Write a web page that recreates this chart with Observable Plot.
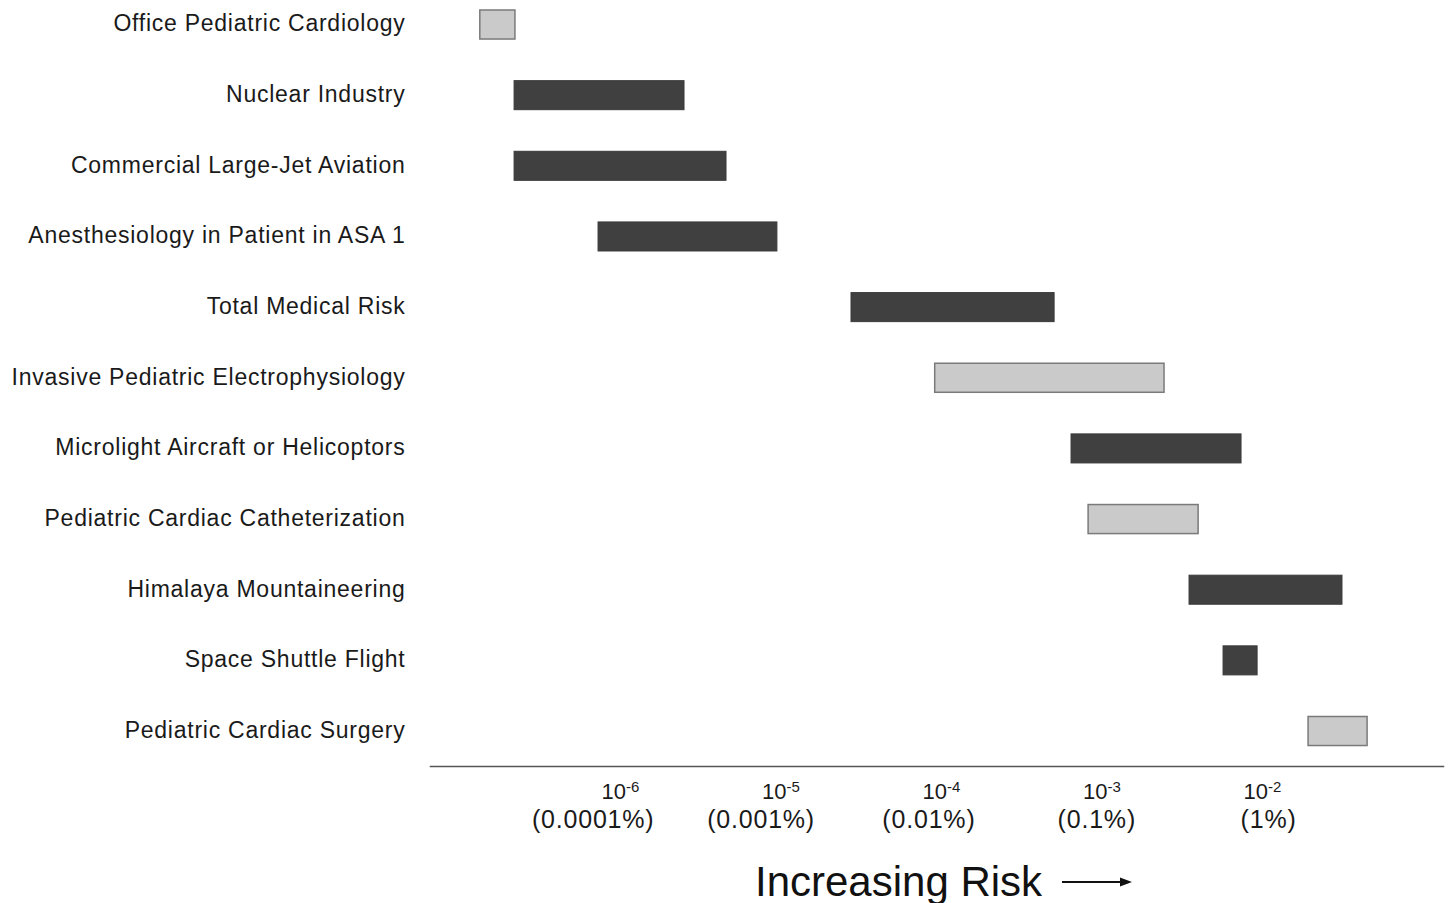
<!DOCTYPE html>
<html>
<head>
<meta charset="utf-8">
<script src="https://cdn.jsdelivr.net/npm/d3@7"></script>
<script src="https://cdn.jsdelivr.net/npm/@observablehq/plot@0.6"></script>
<style>
  html, body { margin: 0; padding: 0; background: #fff; }
  body { width: 1448px; height: 903px; overflow: hidden; font-family: "Liberation Sans", Arial, sans-serif; }
  #caption { margin-top: 11px; margin-left: 755px; font-size: 42px; line-height: 42px; color: #111; white-space: nowrap; }
  #caption svg { vertical-align: baseline; margin-left: 18px; position: relative; top: -6px; }
</style>
</head>
<body>
<div id="chart"></div>
<div id="caption">Increasing Risk<svg width="74" height="16" viewBox="0 0 74 16"><line x1="2" y1="8" x2="62" y2="8" stroke="#111" stroke-width="2"/><path d="M60,3.5 L72,8 L60,12.5 Z" fill="#111"/></svg></div>
<script>
const categories = [
  "Office Pediatric Cardiology",
  "Nuclear Industry",
  "Commercial Large-Jet Aviation",
  "Anesthesiology in Patient in ASA 1",
  "Total Medical Risk",
  "Invasive Pediatric Electrophysiology",
  "Microlight Aircraft or Helicoptors",
  "Pediatric Cardiac Catheterization",
  "Himalaya Mountaineering",
  "Space Shuttle Flight",
  "Pediatric Cardiac Surgery"
];
const lowRisk  = [1.48e-7, 2.42e-7, 2.42e-7, 8.07e-7, 3.04e-5, 1.01e-4, 7.14e-4, 9.12e-4, 3.88e-3, 6.32e-3, 2.14e-2];
const highRisk = [2.45e-7, 2.77e-6, 5.06e-6, 1.05e-5, 5.6e-4, 2.71e-3, 8.18e-3, 4.42e-3, 3.48e-2, 1.03e-2, 4.99e-2];
const kinds = ["light","dark","dark","dark","dark","light","dark","light","dark","dark","light"];

const tickValues = [1e-6, 1e-5, 1e-4, 1e-3, 1e-2];
const tickBase = ["10","10","10","10","10"];
const tickExponents = ["-6","-5","-4","-3","-2"];
const tickPercents = ["(0.0001%)","(0.001%)","(0.01%)","(0.1%)","(1%)"];

const rows = categories.map((c, i) => ({category: c, low: lowRisk[i], high: highRisk[i], kind: kinds[i]}));
const ticks = tickValues.map((v, i) => ({v, base: tickBase[i], exp: tickExponents[i], pct: tickPercents[i]}));

const chart = Plot.plot({
  width: 1448,
  height: 850,
  marginLeft: 430,
  marginRight: 5,
  marginTop: 0,
  marginBottom: 84,
  style: {fontFamily: "'Liberation Sans', Arial, sans-serif", fontSize: "23px", color: "#1a1a1a", background: "#fff"},
  x: {type: "log", domain: [Math.pow(10, -7.140), Math.pow(10, -0.829)], axis: null},
  y: {domain: categories, paddingInner: 0.589, paddingOuter: 0.2156, align: 0.328, round: false, axis: null},
  marks: [
    Plot.axisY({tickSize: 0, tickPadding: 25, fontSize: 23, label: null, dy: -1}),
    Plot.barX(rows, {filter: d => d.kind === "dark", x1: "low", x2: "high", y: "category", fill: "#404040", stroke: "#3a3a3a", strokeWidth: 1}),
    Plot.barX(rows, {filter: d => d.kind === "light", x1: "low", x2: "high", y: "category", fill: "#cacaca", stroke: "#7a7a7a", strokeWidth: 1.5}),
    Plot.frame({anchor: "bottom", stroke: "#555", strokeWidth: 1.5}),
    Plot.text(ticks, {x: "v", text: "base", frameAnchor: "bottom", lineAnchor: "bottom", textAnchor: "start", dx: -12, dy: 32, fontSize: 22}),
    Plot.text(ticks, {x: "v", text: "exp", frameAnchor: "bottom", lineAnchor: "bottom", textAnchor: "start", dx: 12.5, dy: 25, fontSize: 15}),
    Plot.text(ticks, {x: "v", text: "pct", frameAnchor: "bottom", lineAnchor: "bottom", textAnchor: "end", dx: 41, dy: 61, fontSize: 25})
  ]
});
document.getElementById("chart").appendChild(chart);
d3.select(chart).selectAll("text").filter(function() { return this.textContent.startsWith("("); }).attr("letter-spacing", "0.8px");
d3.select(chart).selectAll("g[aria-label='y-axis tick label'] text").attr("letter-spacing", "0.75px");
</script>
</body>
</html>
